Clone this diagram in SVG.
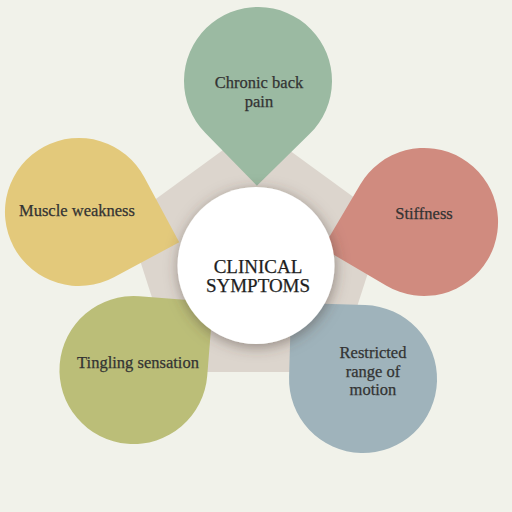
<svg xmlns="http://www.w3.org/2000/svg" xmlns:xlink="http://www.w3.org/1999/xlink" width="512" height="512" viewBox="0 0 512 512">
<style>
.lbl{font-family:"Liberation Serif","Times New Roman",serif;font-size:16.5px;fill:#333333;stroke:#333333;stroke-width:0.25;text-anchor:middle}
.title{font-family:"Liberation Serif","Times New Roman",serif;font-size:19px;fill:#1e1e1e;stroke:#1e1e1e;stroke-width:0.25;text-anchor:middle}
</style>
<defs>
<path id="drop" d="M104.7,0 L52.3,52.3 A74,74 0 1 1 52.3,-52.3 Z"/>
<filter id="sh" x="-40%" y="-40%" width="180%" height="180%">
<feDropShadow dx="1" dy="3" stdDeviation="7" flood-color="#4a3c34" flood-opacity="0.5"/>
</filter>
</defs>
<rect width="512" height="512" fill="#f1f2ea"/>
<g id="pentagon">
<polygon points="256,126 385,220 336,372 176,372 127,220" fill="#dcd5cd"/>
</g>
<g id="node-chronic">
<use xlink:href="#drop" href="#drop" fill="#9bbaa2" transform="translate(258,81) rotate(90.6)"/>
<text class="lbl" x="259" y="88">Chronic back</text>
<text class="lbl" x="259" y="106.5">pain</text>
</g>
<g id="node-stiffness">
<use xlink:href="#drop" href="#drop" fill="#d08b7f" transform="translate(424,222) rotate(165.5)"/>
<text class="lbl" x="424" y="219">Stiffness</text>
</g>
<g id="node-restricted">
<use xlink:href="#drop" href="#drop" fill="#9fb3bb" transform="translate(363,379) rotate(-133.3)"/>
<text class="lbl" x="373" y="358">Restricted</text>
<text class="lbl" x="373" y="376.5">range of</text>
<text class="lbl" x="373" y="395">motion</text>
</g>
<g id="node-tingling">
<use xlink:href="#drop" href="#drop" fill="#bbbe78" transform="translate(133.5,370) rotate(-40.5)"/>
<text class="lbl" x="138" y="368">Tingling sensation</text>
</g>
<g id="node-muscle">
<use xlink:href="#drop" href="#drop" fill="#e3c97b" transform="translate(79,212) rotate(16.8)"/>
<text class="lbl" x="77" y="216">Muscle weakness</text>
</g>
<g id="center">
<circle cx="256" cy="265.5" r="78.5" fill="#ffffff" filter="url(#sh)"/>
<text class="title" x="258" y="273">CLINICAL</text>
<text class="title" x="258" y="292">SYMPTOMS</text>
</g>
<g id="connectors"/>
</svg>
